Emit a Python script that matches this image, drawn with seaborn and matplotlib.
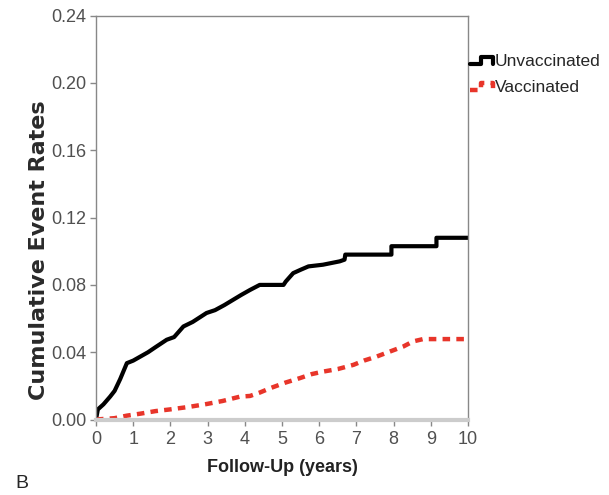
import numpy as np
import pandas as pd
import matplotlib
matplotlib.use("Agg")
import matplotlib.pyplot as plt
import seaborn as sns
from matplotlib.lines import Line2D
from matplotlib.legend_handler import HandlerBase

# Cumulative event rates (repeated times = vertical steps)
t_unvac = [0, 0.05, 0.2, 0.38, 0.5, 0.65, 0.83, 1.0, 1.2, 1.4, 1.6, 1.9, 2.1,
           2.35, 2.6, 2.97, 3.2, 3.45, 3.69, 3.9, 4.14, 4.4, 5.04, 5.1, 5.3,
           5.5, 5.71, 6.1, 6.55, 6.68, 6.7, 7.94, 7.94, 9.15, 9.15, 10]
y_unvac = [0.0, 0.006, 0.009, 0.0136, 0.017, 0.024, 0.0335, 0.035, 0.0375,
           0.040, 0.043, 0.0474, 0.049, 0.0553, 0.058, 0.0633, 0.065, 0.068,
           0.0712, 0.074, 0.077, 0.080, 0.080, 0.082, 0.087, 0.089, 0.091,
           0.092, 0.094, 0.095, 0.098, 0.098, 0.103, 0.103, 0.108, 0.108]
t_vac = [0, 0.5, 0.83, 1.2, 1.6, 1.99, 2.5, 2.97, 3.4, 3.87, 4.14, 4.4, 4.68,
         5.1, 5.48, 5.8, 6.11, 6.5, 6.92, 7.2, 7.54, 7.9, 8.26, 8.52, 8.79, 10]
y_vac = [0, 0.0008, 0.0023, 0.0035, 0.005, 0.006, 0.0075, 0.0092, 0.011,
         0.0136, 0.014, 0.016, 0.0186, 0.022, 0.0246, 0.027, 0.0285, 0.030,
         0.0325, 0.035, 0.0374, 0.0404, 0.0434, 0.0464, 0.0478, 0.0478]
groups = ["Unvaccinated", "Vaccinated"]
colors = {"Unvaccinated": "black", "Vaccinated": "#e8352a"}
x_ticks = list(range(0, 11))
y_ticks = [0.00, 0.04, 0.08, 0.12, 0.16, 0.20, 0.24]
red_dash = (1.7, 1.4)

sns.set_style("white")
plt.rcParams['font.family'] = ['Liberation Sans', 'DejaVu Sans']

df_u = pd.DataFrame({"t": t_unvac, "rate": y_unvac})
df_v = pd.DataFrame({"t": t_vac, "rate": y_vac})

fig = plt.figure(figsize=(6.09, 4.95), dpi=100)
ax = fig.add_axes([0.1576, 0.1525, 0.611, 0.8158])

sns.lineplot(data=df_u, x="t", y="rate", ax=ax, color=colors["Unvaccinated"],
             lw=3, sort=False, estimator=None)
sns.lineplot(data=df_v, x="t", y="rate", ax=ax, color=colors["Vaccinated"],
             lw=3.2, sort=False, estimator=None)
ax.lines[-1].set_dashes(red_dash)

ax.set_xlim(0, 10)
ax.set_ylim(0, 0.24)
ax.set_xticks(x_ticks)
ax.set_yticks(y_ticks)
ax.set_yticklabels([f"{v:.2f}" for v in y_ticks])
ax.tick_params(axis="both", which="major", direction="out", length=4,
               width=1, color="#888888", labelcolor="#505050", labelsize=13,
               left=True, bottom=True)
ax.tick_params(axis="x", pad=4)
ax.tick_params(axis="y", pad=3)
for s in ["left", "top", "right"]:
    ax.spines[s].set_color("#888888")
    ax.spines[s].set_linewidth(1)
ax.spines["bottom"].set_color("#cccccc")
ax.spines["bottom"].set_linewidth(3)

ax.set_xlabel("Follow-Up (years)", fontsize=13, fontweight="bold", labelpad=8,
              color="#222222")
ax.set_ylabel("Cumulative Event Rates", fontsize=16, fontweight="bold",
              color="#2a2a2a", family=["DejaVu Sans"])
ax.yaxis.set_label_coords(-0.125, 0.42)


class StepHandler(HandlerBase):
    def create_artists(self, legend, orig_handle, xdescent, ydescent, width,
                       height, fontsize, trans):
        lo, hi = 0.2 * height, 0.8 * height
        xs = [0, 0.45 * width, 0.45 * width, width, width]
        ys = [lo, lo, hi, hi, lo]
        line = Line2D(xs, ys, color=orig_handle.get_color(),
                      lw=orig_handle.get_linewidth(), transform=trans)
        if orig_handle.get_linestyle() != "-":
            line.set_dashes(red_dash)
        return [line]


handles = [Line2D([], [], color=colors["Unvaccinated"], lw=3),
           Line2D([], [], color=colors["Vaccinated"], lw=3.2, linestyle="--")]
ax.legend(handles, groups, loc="upper left", bbox_to_anchor=(0.997, 0.913),
          frameon=False, fontsize=12.5, handlelength=1.3, handletextpad=0.1,
          labelspacing=0.62, borderaxespad=0, borderpad=0.2,
          handler_map={Line2D: StepHandler()})

fig.text(15 / 609, 1 - 484 / 495, "B", fontsize=14, va="center", ha="left")

fig.savefig("out.png", dpi=100)
